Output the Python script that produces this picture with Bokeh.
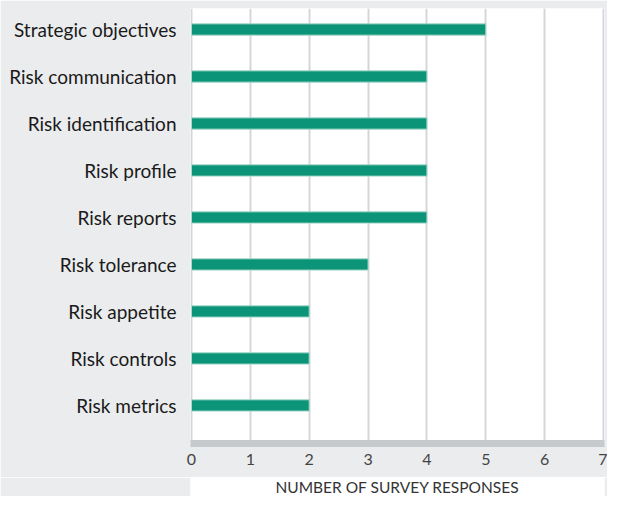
from bokeh.plotting import figure
from bokeh.models import Range1d, FixedTicker, ColumnDataSource, Label
from bokeh.layouts import column
from bokeh.embed import file_html
from bokeh.resources import INLINE

categories = ["Strategic objectives", "Risk communication", "Risk identification",
              "Risk profile", "Risk reports", "Risk tolerance", "Risk appetite",
              "Risk controls", "Risk metrics"]
values = [5, 4, 4, 4, 4, 3, 2, 2, 2]
x_ticks = [0, 1, 2, 3, 4, 5, 6, 7]
axis_title = "NUMBER OF SURVEY RESPONSES"

BG = "#ebecee"
FONT = "Lato"

n = len(categories)
ypos = [n - 1 - i for i in range(n)]
src = ColumnDataSource(dict(y=ypos, v=values, cat=categories))

p = figure(frame_width=414, frame_height=435,
           x_range=Range1d(-0.017, 7.017), y_range=Range1d(-0.81, n - 1 + 0.447),
           output_backend="svg", toolbar_location=None,
           min_border_left=190, min_border_right=3, min_border_top=8, min_border_bottom=34)
p.hbar(y="y", right="v", left=0, height=0.24, source=src,
       fill_color="#0c9478", line_color="#a6d9cb", line_width=1)

p.background_fill_color = "white"
p.border_fill_color = BG
p.outline_line_color = None

p.xgrid.ticker = FixedTicker(ticks=x_ticks)
p.xgrid.grid_line_color = "#d4d7da"
p.xgrid.grid_line_width = 2
p.ygrid.visible = False

xa = p.xaxis[0]
xa.ticker = FixedTicker(ticks=x_ticks)
xa.axis_line_color = "#c6cacd"
xa.axis_line_width = 7
xa.major_tick_line_color = None
xa.minor_tick_line_color = None
xa.major_tick_out = 0
xa.major_label_standoff = 10
xa.major_label_text_font = FONT
xa.major_label_text_font_size = "16px"
xa.major_label_text_color = "#444444"

ya = p.yaxis[0]
ya.ticker = FixedTicker(ticks=ypos)
ya.major_label_overrides = {y: c for y, c in zip(ypos, categories)}
ya.axis_line_color = None
ya.major_tick_line_color = None
ya.minor_tick_line_color = None
ya.major_tick_out = 0
ya.major_label_standoff = 14
ya.major_label_text_font = FONT
ya.major_label_text_font_size = "19px"
ya.major_label_text_color = "#1a1a1a"

p2 = figure(frame_width=414, frame_height=19,
            x_range=Range1d(0, 1), y_range=Range1d(0, 1),
            x_axis_location=None, y_axis_location=None,
            output_backend="svg", toolbar_location=None,
            min_border_left=190, min_border_right=3, min_border_top=0, min_border_bottom=0)
p2.grid.visible = False
p2.background_fill_color = "white"
p2.border_fill_color = BG
p2.outline_line_color = None
p2.add_layout(Label(x=0.5, y=0.5, text=axis_title, text_align="center",
                    text_baseline="middle", text_font=FONT, text_font_size="15.5px",
                    text_color="#333333"))

layout = column(p, p2, spacing=0)
open("out.html", "w").write(file_html(layout, INLINE))
